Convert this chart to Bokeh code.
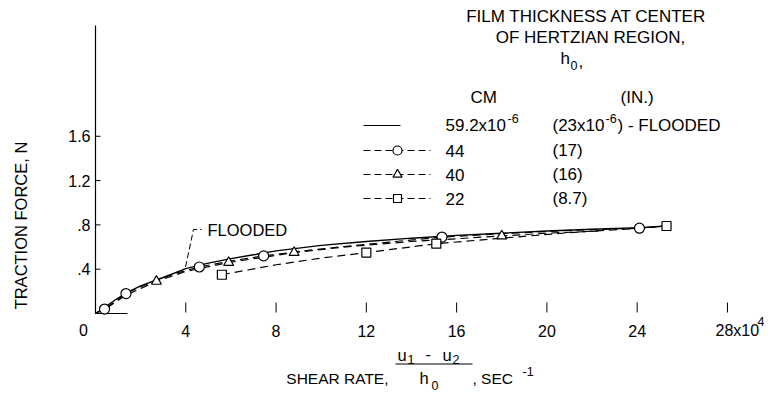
import numpy as np
from bokeh.plotting import figure
from bokeh.models import Range1d, Label
from bokeh.embed import file_html
from bokeh.resources import INLINE
from bokeh.core.properties import value

# ---------------- data ----------------
# shear rate in units of 1e4 1/s, traction force in N
flooded_x = [0, 0.5, 1, 1.5, 2, 3, 4, 5, 6, 7, 8, 10, 12, 14, 16, 18, 20, 22, 24.1, 25.3]
flooded_y = [0, 0.07, 0.14, 0.20, 0.25, 0.325, 0.405, 0.455, 0.495, 0.53, 0.565, 0.615, 0.65, 0.68, 0.705, 0.725, 0.745, 0.76, 0.775, 0.79]

h44_x = [0.4, 1.35, 4.6, 7.45, 15.35, 24.1]
h44_y = [0.04, 0.18, 0.42, 0.52, 0.69, 0.77]
h44_curve_x = [0, 0.4, 1.35, 2.5, 3.5, 4.6, 6, 7.45, 9, 11, 13, 15.35, 18, 21, 24.1]
h44_curve_y = [0, 0.04, 0.18, 0.285, 0.36, 0.42, 0.475, 0.52, 0.56, 0.605, 0.645, 0.69, 0.72, 0.75, 0.77]

h40_x = [2.7, 5.9, 8.8, 18.0]
h40_y = [0.29, 0.46, 0.55, 0.70]
h40_curve_x = [0, 0.5, 1.35, 2.7, 4, 5.9, 8.8, 11, 14, 18.0, 20, 22.5]
h40_curve_y = [0, 0.05, 0.165, 0.29, 0.38, 0.46, 0.55, 0.60, 0.65, 0.70, 0.725, 0.745]

h22_x = [5.6, 12.0, 15.1, 25.3]
h22_y = [0.35, 0.55, 0.63, 0.79]
h22_curve_x = [5.6, 8, 10, 12.0, 15.1, 18, 21, 24.1, 25.3]
h22_curve_y = [0.35, 0.44, 0.50, 0.55, 0.63, 0.68, 0.73, 0.77, 0.79]

x_ticks = [4, 8, 12, 16, 20, 24, 28]
x_tick_labels = ["4", "8", "12", "16", "20", "24", ""]
y_ticks = [0.4, 0.8, 1.2, 1.6]
y_tick_labels = [".4", ".8", "1.2", "1.6"]
y_axis_top = 2.6

legend_cm = ["59.2x10", "44", "40", "22"]
legend_in = ["(23x10", "(17)", "(16)", "(8.7)"]

# ---------------- figure: frame covers the whole canvas ----------------
FONT = "Liberation Sans"
W, H = 764, 395
PX0, PY0 = 95.0, 313.0          # page position of data origin
SX, SY = 22.57, 110.77          # pixels per data unit
XMIN, XMAX = -PX0 / SX, (W - PX0) / SX
YMAX, YMIN = PY0 / SY, (PY0 - H) / SY

p = figure(width=W, height=H, output_backend="svg", toolbar_location=None,
           x_range=Range1d(XMIN, XMAX), y_range=Range1d(YMIN, YMAX),
           x_axis_location=None, y_axis_location=None,
           min_border=0)
p.outline_line_color = None
p.grid.visible = False
p.background_fill_color = "white"

def X(px):
    return (px - PX0) / SX
def Y(py):
    return (PY0 - py) / SY

def lab(text, px, py, size="17px", align="left", baseline="middle", angle=0):
    p.add_layout(Label(x=X(px), y=Y(py), text=text, text_font=FONT, text_font_size=size,
                       text_align=align, text_baseline=baseline, text_color="black", angle=angle))

LW = 1.2
DASH = "8 5"

# ---- axes drawn by hand ----
p.line([0, 0], [0, y_axis_top], line_color="black", line_width=LW)
p.segment(x0=[0] * len(y_ticks), y0=y_ticks, x1=[X(100)] * len(y_ticks), y1=y_ticks,
          line_color="black", line_width=1)
p.text(x=[X(90)] * len(y_ticks), y=y_ticks, text=y_tick_labels, text_font=value(FONT),
       text_font_size="16px", text_align="right", text_baseline="middle", text_color="black")
p.line([0, X(127)], [0, 0], line_color="black", line_width=LW)
p.segment(x0=x_ticks, y0=[Y(312)] * len(x_ticks), x1=x_ticks, y1=[Y(302)] * len(x_ticks),
          line_color="black", line_width=1)
p.text(x=x_ticks, y=[Y(330)] * len(x_ticks), text=x_tick_labels, text_font=value(FONT),
       text_font_size="16px", text_align="center", text_baseline="middle", text_color="black")
lab("0", 83, 329, "16px", align="center")
lab("28x10", 715, 330, "16px")
lab("4", 757, 321, "12.5px")

# ---- curves ----
p.line(flooded_x, flooded_y, line_color="black", line_width=1.4)
p.line(h44_curve_x, h44_curve_y, line_color="black", line_width=LW, line_dash=DASH)
p.line(h40_curve_x, h40_curve_y, line_color="black", line_width=LW, line_dash=DASH)
p.line(h22_curve_x, h22_curve_y, line_color="black", line_width=LW, line_dash=DASH)
p.line([h44_x[-1], h22_x[-1]], [h44_y[-1], h22_y[-1]], line_color="black", line_width=LW)

p.scatter(h44_x, h44_y, marker="circle", size=10, fill_color="white", line_color="black", line_width=1.2)
p.scatter(h40_x, h40_y, marker="triangle", size=10, fill_color="white", line_color="black", line_width=1.2)
p.scatter(h22_x, h22_y, marker="square", size=9, fill_color="white", line_color="black", line_width=1.2)

# FLOODED leader
p.line([X(185), X(193), X(201)], [Y(266.5), Y(229), Y(229)], line_color="black", line_width=1, line_dash="6 3")
lab("FLOODED", 207, 229, "16.5px")

# ---- legend ----
lab("FILM THICKNESS AT CENTER", 586, 16, align="center")
lab("OF HERTZIAN REGION,", 590, 37, align="center")
lab("h", 560, 58)
lab("0", 570, 65, "12.5px")
lab(",", 578, 60)
lab("CM", 470, 97)
lab("(IN.)", 620, 97)

rows_y = [125, 150, 174, 198]
p.line([X(363), X(400)], [Y(rows_y[0])] * 2, line_color="black", line_width=LW)
for ry, mk in zip(rows_y[1:], ["circle", "triangle", "square"]):
    p.line([X(363), X(430)], [Y(ry)] * 2, line_color="black", line_width=LW, line_dash="7 4")
    p.scatter([X(397)], [Y(ry)], marker=mk, size=9 if mk != "square" else 8,
              fill_color="white", line_color="black", line_width=1.2)

for i, (cm, inch) in enumerate(zip(legend_cm, legend_in)):
    ry = rows_y[i]
    lab(cm, 445, ry)
    lab(inch, 552, ry)
lab("-6", 507, rows_y[0] - 7, "12.5px")
lab("-6", 605, rows_y[0] - 7, "12.5px")
lab(") - FLOODED", 617, rows_y[0])

# ---- axis titles ----
lab("TRACTION FORCE, N", 20, 225, "16.5px", align="center", angle=np.pi / 2)
lab("SHEAR RATE,", 388, 378, "15.5px", align="right")
lab("u", 397, 354, "16.5px")
lab("1", 407, 359, "12.5px")
lab("-", 425, 353, "16.5px")
lab("u", 442, 354, "16.5px")
lab("2", 452, 359, "12.5px")
p.line([X(395), X(472)], [Y(363.5)] * 2, line_color="black", line_width=1.2)
lab("h", 419, 377, "16.5px")
lab("0", 431, 385, "12.5px")
lab(",  SEC", 472, 378, "15.5px")
lab("-1", 522, 371, "12.5px")

open("out.html", "w").write(file_html(p, INLINE))
